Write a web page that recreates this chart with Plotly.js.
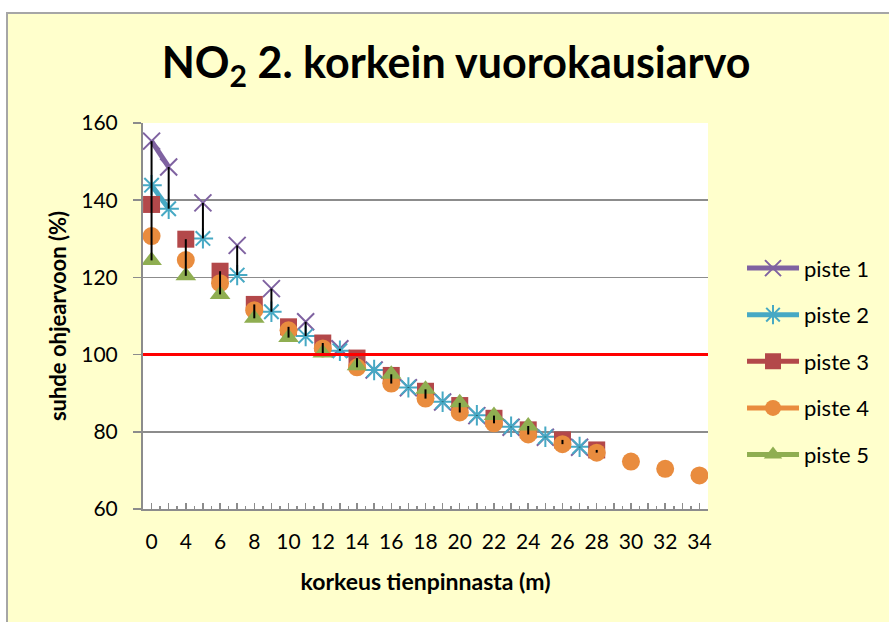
<!DOCTYPE html>
<html><head><meta charset="utf-8">
<script src="https://cdn.plot.ly/plotly-3.0.1.min.js"></script>
<style>
html,body{margin:0;padding:0;background:#fff;width:889px;height:622px;overflow:hidden}
#frame{position:absolute;left:6px;top:12px;width:883px;height:610px;border-left:2px solid #A6A6A6;border-top:2px solid #A6A6A6;background:#FFFFCC}
#chart{width:883px;height:610px}
</style></head><body><div id="frame"><div id="chart"></div></div>
<script>
// Category labels (heights above road surface, m)
const categories = ["0","3","4","5","6","7","8","9","10","11","12","13","14","15","16","17","18","19","20","21","22","23","24","25","26","27","28","29","30","31","32","33","34"];
// Labels shown on the axis
const shownLabels = ["0","4","6","8","10","12","14","16","18","20","22","24","26","28","30","32","34"];
// Series values (% of guideline), null = no measurement at that height
const piste1 = [155.3,148.6,null,139.3,null,128.3,null,117.1,null,108.5,null,101.5,null,96.0,null,91.4,null,87.7,null,84.2,null,81.2,null,78.6,null,76.0,null,null,null,null,null,null,null];
const piste2 = [143.9,137.8,null,130.1,null,120.6,null,111.1,null,104.8,null,101.0,null,96.0,null,91.5,null,87.8,null,84.3,null,81.3,null,78.7,null,76.1,null,null,null,null,null,null,null];
const piste3 = [138.9,null,129.9,null,121.6,null,113.0,null,107.2,null,103.0,null,99.1,null,94.6,null,90.5,null,86.8,null,83.5,null,80.5,null,77.9,null,75.3,null,null,null,null,null,null];
const piste4 = [130.7,null,124.5,null,118.5,null,111.5,null,106.3,null,101.6,null,96.7,null,92.5,null,88.6,null,85.0,null,82.2,null,79.3,null,76.8,null,74.6,null,72.3,null,70.4,null,68.7];
const piste5 = [124.4,null,120.4,null,115.6,null,109.4,null,104.4,null,100.4,null,97.1,null,94.9,null,91.0,null,87.5,null,84.2,null,81.5,null,null,null,null,null,null,null,null,null,null];
const seriesNames = ["piste 1","piste 2","piste 3","piste 4","piste 5"];
const limitValue = 100;

const xIdx = categories.map((c,i)=>i);
const allSeries = [piste1,piste2,piste3,piste4,piste5];
const colors = ["#7F62A1","#47A9C4","#B3484A","#E98C3E","#8FAE51"];
const markers = [
  {symbol:"x-thin-open", size:17, color:colors[0], line:{color:colors[0], width:2}},
  {symbol:"asterisk-open", size:17, color:colors[1], line:{color:colors[1], width:2}},
  {symbol:"square", size:17, color:colors[2], line:{width:0}},
  {symbol:"circle", size:18, color:colors[3], line:{width:0}},
  {symbol:"triangle-up", size:18, color:colors[4], line:{width:0}}
];
const traces = allSeries.map((s,k)=>({
  type:"scatter", mode:"lines+markers", name:seriesNames[k], x:xIdx, y:s,
  connectgaps:false, line:{color:colors[k], width:5}, marker:markers[k],
  legendgroup:"g"+k, hoverinfo:"x+y"
}));
// high-low lines
const hlx=[], hly=[];
xIdx.forEach(i=>{
  const vals = allSeries.map(s=>s[i]).filter(v=>v!==null);
  if(vals.length>=2){ hlx.push(i,i,null); hly.push(Math.max(...vals),Math.min(...vals),null); }
});
traces.push({type:"scatter", mode:"lines", x:hlx, y:hly, line:{color:"#000", width:2}, showlegend:false, hoverinfo:"skip"});

const grey = "#8C8C8C";
const layout = {
  width:883, height:610,
  paper_bgcolor:"#FFFFCC", plot_bgcolor:"#FFFFFF",
  margin:{l:135, r:183, t:109, b:115},
  font:{family:"Lato, 'Open Sans', sans-serif", color:"#000"},
  title:{text:"NO<sub>2</sub> 2. korkein vuorokausiarvo", font:{size:43, family:"Lato", weight:"bold", color:"#000"},
         xref:"container", x:0.5074, xanchor:"center", yref:"container", y:0.9197, yanchor:"middle"},
  xaxis:{type:"linear", range:[-0.5, categories.length-0.5], tickmode:"array",
         tickvals:xIdx, ticktext:categories.map(c=>shownLabels.includes(c)?c:""),
         ticks:"inside", ticklen:6, tickwidth:1.5, tickcolor:grey,
         minor:{tickmode:"array", tickvals:xIdx.map(i=>i+0.5), ticks:"inside", ticklen:3, tickwidth:1.5, tickcolor:grey},
         showline:true, linecolor:grey, linewidth:2, showgrid:false, zeroline:false,
         tickfont:{size:21}, ticklabelstandoff:13,
         title:{text:"korkeus tienpinnasta (m)", font:{size:23, weight:"bold"}, standoff:22}},
  yaxis:{range:[60,160], dtick:20, tick0:60, ticks:"outside", ticklen:8, tickwidth:1.5, tickcolor:grey,
         showline:true, linecolor:grey, linewidth:2, showgrid:true, gridcolor:grey, gridwidth:1.5, zeroline:false,
         tickfont:{size:21}, ticklabelstandoff:11,
         title:{text:"suhde ohjearvoon (%)", font:{size:22, weight:"bold"}, standoff:9}},
  shapes:[{type:"line", xref:"paper", x0:0, x1:1, yref:"y", y0:limitValue, y1:limitValue, line:{color:"#FF0000", width:3}, layer:"above"}],
  legend:{x:1.0602, xanchor:"left", y:0.678, yanchor:"top", bgcolor:"rgba(0,0,0,0)", font:{size:22},
          traceorder:"grouped", tracegroupgap:15, itemwidth:52},
  showlegend:true
};
Plotly.newPlot("chart", traces, layout, {displayModeBar:false, staticPlot:true});
</script></body></html>
